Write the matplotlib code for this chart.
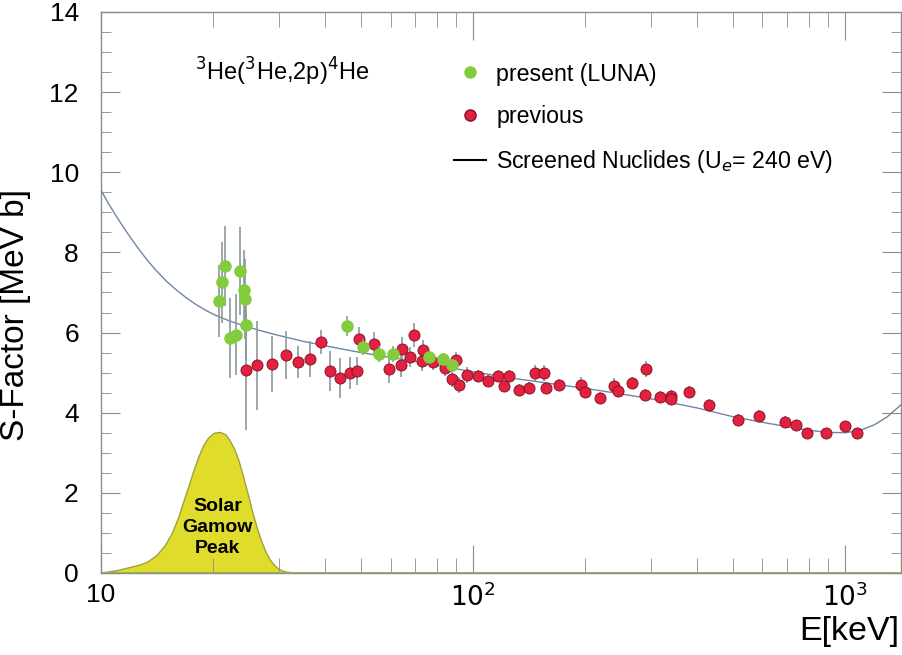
import matplotlib
matplotlib.use("Agg")
import matplotlib.pyplot as plt
from matplotlib.lines import Line2D
from matplotlib.ticker import FixedLocator, FixedFormatter, NullFormatter, MultipleLocator

plt.rcParams['font.family'] = ['Liberation Sans', 'DejaVu Sans']

# ---- data ----
luna_E = [20.7, 21.2, 21.5, 22.2, 23.0, 23.6, 24.4, 24.6, 24.3, 45.8, 50.6, 55.9, 61.1, 76.0, 83.0, 88.0]
luna_S = [6.78, 7.25, 7.66, 5.87, 5.95, 7.53, 6.83, 6.2, 7.05, 6.16, 5.63, 5.47, 5.47, 5.4, 5.33, 5.2]
luna_err = [0.9, 1.0, 1.0, 1.0, 1.0, 1.1, 1.0, 0.9, 1.0, 0.25, 0.2, 0.2, 0.2, 0.15, 0.15, 0.15]

prev_E = [24.5, 26.3, 28.9, 31.4, 33.8, 36.4, 39.1, 41.2, 43.9, 46.7, 48.9, 49.3, 54.3,
          59.3, 64.1, 64.4, 69.2, 67.6, 73.3, 72.8, 78.2, 84.3, 89.8, 88.0, 91.6, 96.6,
          103, 109.6, 116.6, 121.3, 125, 133, 141, 147, 155, 157, 170, 195, 200, 219,
          240, 246, 268, 291, 290, 318, 340, 340, 380, 432, 517, 589, 688, 740, 790,
          890, 1000, 1080]
prev_S = [5.06, 5.18, 5.22, 5.45, 5.26, 5.34, 5.77, 5.03, 4.87, 4.99, 5.05, 5.84, 5.72,
          5.09, 5.18, 5.58, 5.95, 5.39, 5.56, 5.28, 5.26, 5.12, 5.31, 4.84, 4.7, 4.95,
          4.92, 4.78, 4.91, 4.66, 4.91, 4.56, 4.62, 4.99, 4.99, 4.62, 4.7, 4.68, 4.51, 4.37,
          4.66, 4.53, 4.73, 5.09, 4.45, 4.39, 4.41, 4.33, 4.51, 4.18, 3.81, 3.91, 3.76, 3.7, 3.49,
          3.49, 3.66, 3.49]
prev_err = [1.5, 1.1, 0.7, 0.6, 0.4, 0.45, 0.3, 0.5, 0.5, 0.4, 0.35, 0.3, 0.3,
            0.35, 0.3, 0.3, 0.3, 0.25, 0.25, 0.25, 0.2, 0.2, 0.2, 0.2, 0.2, 0.2,
            0.15, 0.15, 0.15, 0.15, 0.15, 0.15, 0.15, 0.2, 0.2, 0.15, 0.15, 0.2, 0.15, 0.15,
            0.2, 0.15, 0.15, 0.2, 0.15, 0.15, 0.15, 0.15, 0.15, 0.15, 0.15, 0.15, 0.15, 0.12, 0.12,
            0.12, 0.12, 0.12]

curve_E = [10, 10.5, 11, 11.5, 12, 12.5, 13, 13.5, 14, 15, 16, 17, 18, 19, 20, 22, 24, 27,
           30, 35, 40, 50, 60, 70, 80, 100, 130, 170, 220, 300, 400, 500, 600, 700, 800,
           900, 1000, 1100, 1200, 1300, 1416]
curve_S = [9.55, 9.2, 8.9, 8.62, 8.37, 8.14, 7.93, 7.74, 7.57, 7.28, 7.05, 6.86, 6.7, 6.57,
           6.46, 6.3, 6.18, 6.04, 5.93, 5.78, 5.67, 5.5, 5.38, 5.28, 5.18, 5.02, 4.85, 4.7,
           4.55, 4.35, 4.12, 3.9, 3.76, 3.65, 3.56, 3.51, 3.5, 3.56, 3.7, 3.9, 4.2]

gamow_E = [10.0, 11.0, 12.07, 12.8, 13.4, 14.1, 14.85, 15.5, 16.1, 16.6, 17.16, 17.7, 18.25,
           18.8, 19.4, 20.1, 20.9, 21.6, 22.2, 22.8, 23.4, 24.1, 24.9, 25.5, 26.2, 26.9, 27.6,
           28.4, 29.3, 30.2, 31.2, 33.2]
gamow_S = [0.01, 0.07, 0.16, 0.22, 0.3, 0.45, 0.7, 1.0, 1.38, 1.76, 2.16, 2.55, 2.9,
           3.18, 3.38, 3.5, 3.52, 3.46, 3.3, 3.1, 2.82, 2.4, 1.91, 1.52, 1.14, 0.82, 0.56,
           0.34, 0.18, 0.09, 0.04, 0.01]

x_ticks = [10, 100, 1000]
x_ticklabels = ['10', r'$10^{2}$', r'$10^{3}$']
y_ticks = [0, 2, 4, 6, 8, 10, 12, 14]

# ---- figure ----
fig = plt.figure(figsize=(9.03, 6.55), dpi=100)
ax = fig.add_axes([0.1119, 0.1252, 0.8861, 0.8565])
ax.set_xscale('log')
ax.set_xlim(10, 1416)
ax.set_ylim(0, 14)

# Gamow peak
ax.fill_between(gamow_E, gamow_S, 0, color='#e0dc2c', edgecolor='#9ea23a', lw=1.0, zorder=1)
ax.axhline(0, color='#9cbf3c', lw=1.5, zorder=2)
ax.text(20.6, 1.13, 'Solar\nGamow\nPeak', ha='center', va='center', fontsize=14,
        fontweight='bold', linespacing=1.32, zorder=3)

# screened curve
ax.plot(curve_E, curve_S, color='#6f86a3', lw=1.0, zorder=3)

# data
ax.errorbar(prev_E, prev_S, yerr=prev_err, fmt='o', color='#e3203f', mec='#7a1020',
            mew=0.6, ms=8, ecolor='#8a9a9a', elinewidth=1.2, capsize=0, zorder=4)
ax.errorbar(luna_E, luna_S, yerr=luna_err, fmt='o', color='#82cc3e', mec='#82cc3e',
            ms=8, ecolor='#8a9a9a', elinewidth=1.2, capsize=0, zorder=5)

ax.text(0.118, 0.893, r'$^{3}$He($^{3}$He,2p)$^{4}$He', transform=ax.transAxes,
        fontsize=17, ha='left', va='center')

handles = [Line2D([], [], ls='none', marker='o', color='#82cc3e', ms=8),
           Line2D([], [], ls='none', marker='o', color='#e3203f', mec='#7a1020', ms=8),
           Line2D([], [], color='black', lw=1.5)]
labels = ['present (LUNA)', 'previous', r'Screened Nuclides (U$_e$= 240 eV)']
ax.legend(handles, labels, loc='upper left', bbox_to_anchor=(0.415, 0.947), frameon=False,
          fontsize=16.7, labelspacing=0.85, handlelength=1.4, handletextpad=0.42)

# axes styling
for s in ax.spines.values():
    s.set_color('#8c8c8c')
    s.set_linewidth(1.0)
ax.xaxis.set_major_locator(FixedLocator(x_ticks))
ax.xaxis.set_major_formatter(FixedFormatter(x_ticklabels))
ax.xaxis.set_minor_formatter(NullFormatter())
ax.set_yticks(y_ticks)
ax.yaxis.set_minor_locator(MultipleLocator(0.5))
ax.tick_params(which='both', direction='in', top=True, right=True, colors='#8c8c8c',
               labelcolor='black')
ax.tick_params(axis='x', which='major', length=20, labelsize=19, pad=7)
ax.tick_params(axis='x', which='minor', length=11)
ax.tick_params(axis='y', which='major', length=14, labelsize=19, pad=16)
ax.tick_params(axis='y', which='minor', length=7)

ax.set_ylabel('S-Factor [MeV b]', fontsize=24)
ax.yaxis.set_label_coords(-0.088, 0.46)
ax.set_xlabel('E[keV]', fontsize=24.5)
ax.xaxis.set_label_coords(0.935, -0.076)

fig.savefig('out.png', dpi=100)
